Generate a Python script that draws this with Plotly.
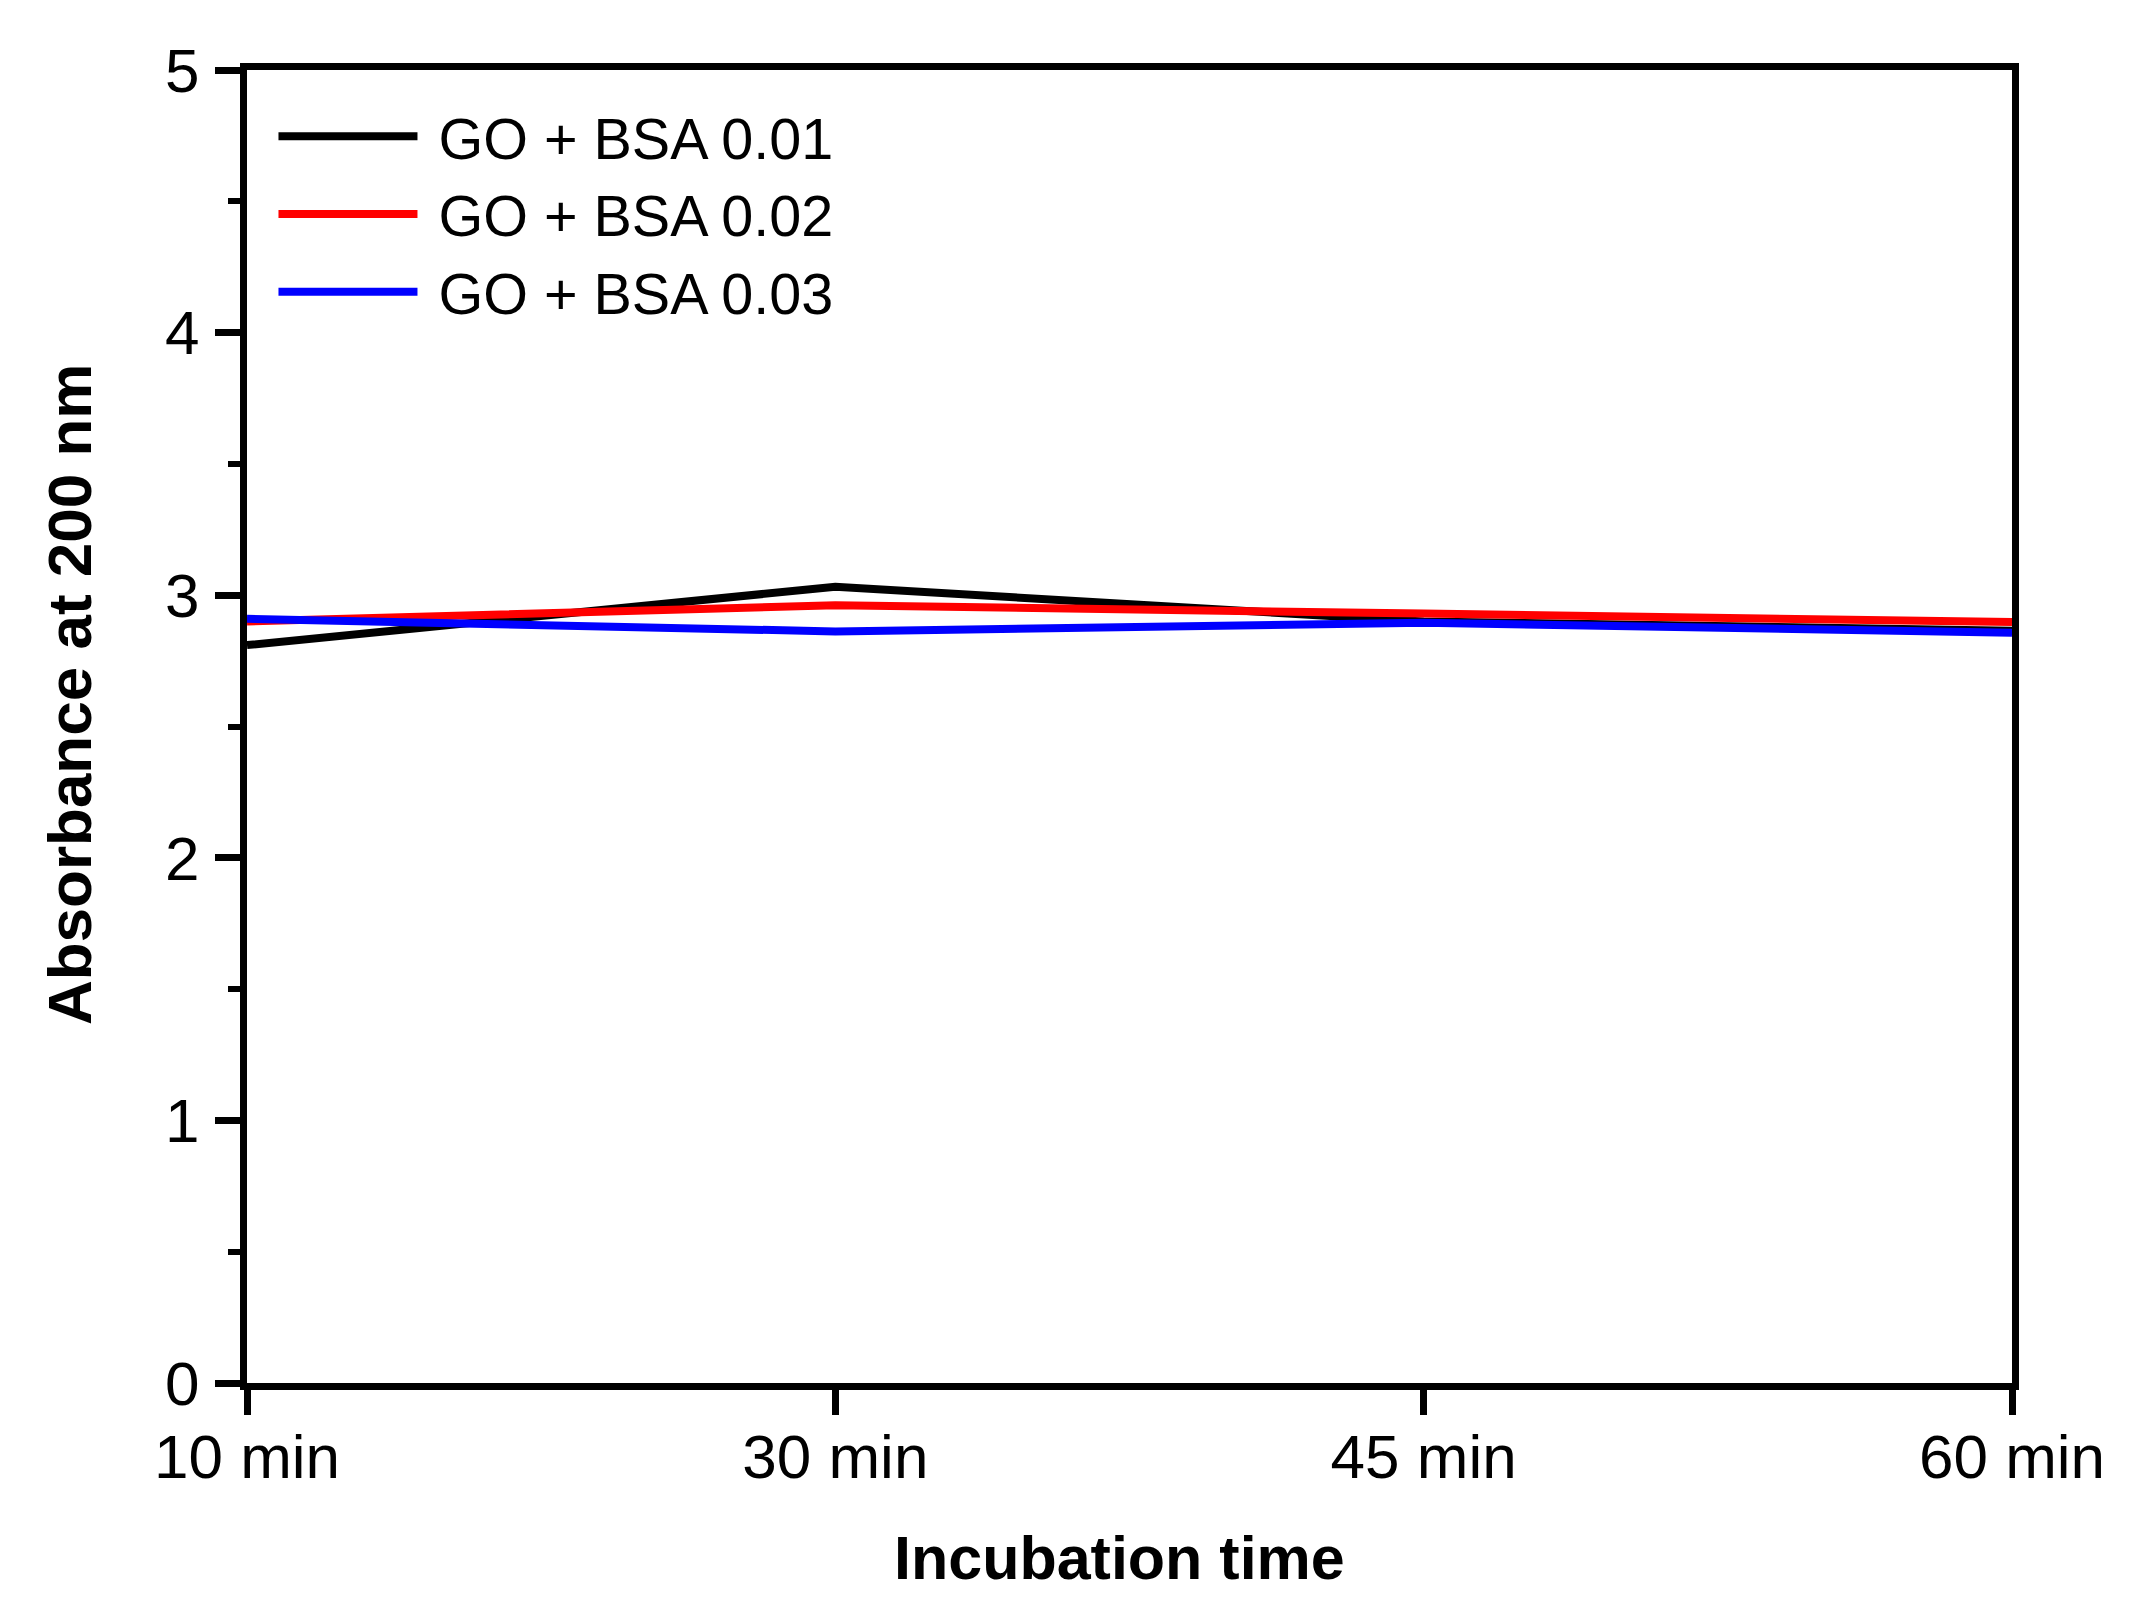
import plotly.graph_objects as go

times = ["10 min", "30 min", "45 min", "60 min"]
bsa_001 = [2.81, 3.032, 2.90, 2.865]
bsa_002 = [2.90, 2.962, 2.93, 2.898]
bsa_003 = [2.91, 2.862, 2.895, 2.857]
series_names = ["GO + BSA 0.01", "GO + BSA 0.02", "GO + BSA 0.03"]
series_colors = ["#000000", "#ff0000", "#0000ff"]
y_ticks = [0, 1, 2, 3, 4, 5]

FONT = "Arial, Liberation Sans, sans-serif"

fig = go.Figure()
for name, vals, col in zip(series_names, [bsa_001, bsa_002, bsa_003], series_colors):
    fig.add_trace(go.Scatter(x=times, y=vals, mode="lines", name="\u00a0" + name,
                             line=dict(color=col, width=8)))

fig.update_layout(
    width=2148, height=1617,
    margin=dict(l=239, r=144, t=62, b=242),
    paper_bgcolor="white", plot_bgcolor="white",
    font=dict(family=FONT, size=60, color="black"),
    showlegend=True,
    legend=dict(x=0.015, y=0.983, xanchor="left", yanchor="top",
                bgcolor="rgba(0,0,0,0)", font=dict(size=57.5),
                itemwidth=139, tracegroupgap=0),
    annotations=[
        dict(text="<b>Absorbance at 200 nm</b>", xref="paper", yref="paper",
             x=-0.1006, y=0.525, xanchor="center", yanchor="middle",
             textangle=-90, showarrow=False, font=dict(size=62)),
        dict(text="<b>Incubation time</b>", xref="paper", yref="paper",
             x=0.4946, y=-0.133, xanchor="center", yanchor="middle",
             showarrow=False, font=dict(size=61)),
    ],
)

fig.update_xaxes(
    type="category", range=[0, 3],
    showline=True, linecolor="black", linewidth=7, mirror=True,
    ticks="outside", ticklen=25, tickwidth=7, tickcolor="black",
    showgrid=False, zeroline=False,
    tickfont=dict(size=62), ticklabelstandoff=-11,
)
fig.update_yaxes(
    range=[0, 5], tickvals=y_ticks,
    showline=True, linecolor="black", linewidth=7, mirror=True,
    ticks="outside", ticklen=25, tickwidth=7, tickcolor="black",
    minor=dict(dtick=0.5, ticks="outside", ticklen=12, tickwidth=6, tickcolor="black", showgrid=False),
    showgrid=False, zeroline=False,
    tickfont=dict(size=62), ticklabelstandoff=3,
)

fig.write_html("out.html")
